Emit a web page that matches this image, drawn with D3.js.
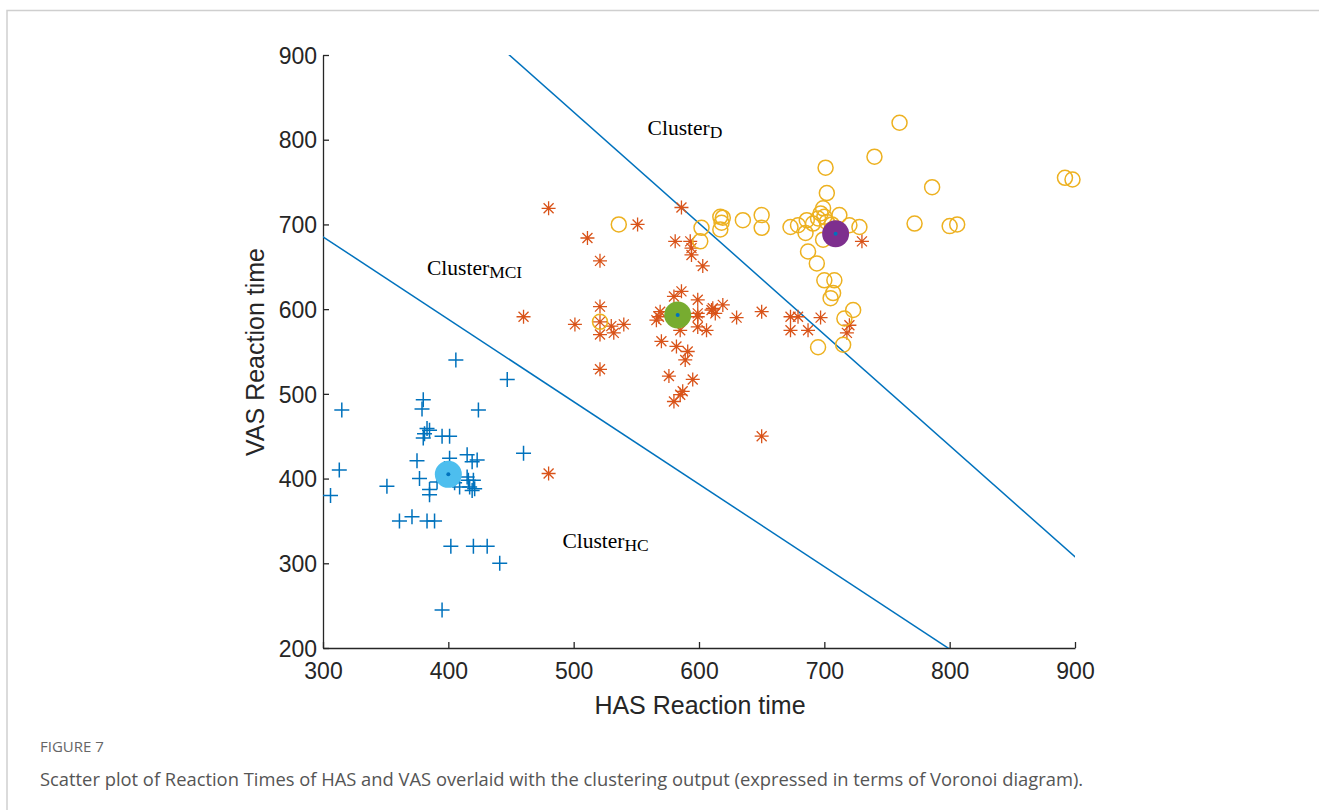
<!DOCTYPE html>
<html>
<head>
<meta charset="utf-8">
<script src="https://cdn.jsdelivr.net/npm/d3@7"></script>
<style>
  body { margin: 0; background: #fff; }
  svg { display: block; }
</style>
</head>
<body>
<div id="chart"></div>
<script>
// HC cluster points (plus markers) [HAS, VAS]
const hcPoints = [
  [315,481],[313,410],[306,380],[351,391],[361,350],[371,355],[383,350],[389,350],
  [406,540],[447,517],[380,493],[379,482],[424,481],[381,453],[385,457],[380,448],
  [395,450],[401,450],[375,421],[460,430],[377,400],[385,387],[385,381],[402,320],
  [420,320],[431,320],[441,300],[395,245],[415,428],[419,420],[423,422],[415,402],
  [416,398],[420,398],[417,390],[419,386],[421,388],[401,424],[409,390],[391,396],
  [383,459],[405,395],[397,412]
];

// MCI cluster points (asterisk markers)
const mciPoints = [
  [480,719],[551,700],[511,684],[521,657],[460,591],[501,582],[521,603],[521,585],
  [521,570],[530,580],[532,572],[540,582],[521,529],[480,406],[586,720],[581,680],
  [593,680],[594,672],[594,664],[603,651],[586,621],[569,597],[566,587],[580,615],
  [599,611],[611,601],[619,605],[599,591],[599,579],[606,575],[630,590],[650,597],
  [673,591],[679,591],[673,575],[687,575],[697,590],[720,581],[718,572],[730,680],
  [570,562],[582,556],[591,550],[589,540],[576,521],[595,517],[580,491],[585,499],
  [587,503],[650,450],[568,591],[585,575],[610,599],[613,595],[599,595]
];

// D cluster points (open circles)
const dPoints = [
  [536,700],[521,585],[601,680],[602,696],[617,709],[619,708],[618,702],[617,694],
  [635,705],[650,711],[650,696],[673,697],[679,699],[686,705],[685,690],[691,701],
  [695,707],[697,713],[699,719],[700,709],[702,703],[702,737],[701,767],[740,780],
  [760,820],[712,711],[720,699],[728,697],[699,682],[687,668],[694,654],[700,634],
  [708,634],[707,619],[705,613],[723,599],[716,589],[715,558],[695,555],[772,701],
  [800,698],[806,700],[786,744],[892,755],[898,753],[706,700],[710,695]
];

// cluster centroids
const centroidNames = ["HC", "MCI", "D"];
const centroidX = [400, 583, 709];
const centroidY = [405, 593, 689];
const centroidColors = ["#4DBEEE", "#77AC30", "#7E2F8E"];

// region labels [x, y] in data units
const labelNames = ["D", "MCI", "HC"];
const labelX = [559, 383, 491];
const labelY = [805, 640, 318];

const xTicks = [300, 400, 500, 600, 700, 800, 900];
const yTicks = [200, 300, 400, 500, 600, 700, 800, 900];

const W = 1319, H = 810;
const svg = d3.select("#chart").append("svg")
  .attr("width", W)
  .attr("height", H);

// card frame
svg.append("path")
  .attr("d", `M7,${H} L7,10.5 L${W},10.5`)
  .attr("fill", "none")
  .attr("stroke", "#cfcfcf")
  .attr("stroke-width", 1.5);

const x = d3.scaleLinear().domain([300, 900]).range([323, 1075]);
const y = d3.scaleLinear().domain([200, 900]).range([648, 55]);

svg.append("clipPath").attr("id", "plotclip")
  .append("rect")
  .attr("x", x(300)).attr("y", y(900))
  .attr("width", x(900) - x(300)).attr("height", y(200) - y(900));

// axes
const axisFont = "'Liberation Sans', Arial, sans-serif";
const gx = svg.append("g")
  .attr("transform", `translate(0,${y(200)})`)
  .call(d3.axisBottom(x).tickValues(xTicks).tickSizeInner(-6).tickSizeOuter(0).tickPadding(15));
const gy = svg.append("g")
  .attr("transform", `translate(${x(300)},0)`)
  .call(d3.axisLeft(y).tickValues(yTicks).tickSizeInner(-6).tickSizeOuter(0).tickPadding(6));
[gx, gy].forEach(g => {
  g.select(".domain").attr("stroke", "#262626").attr("stroke-width", 1.3);
  g.selectAll(".tick line").attr("stroke", "#262626").attr("stroke-width", 1.3);
  g.selectAll(".tick text")
    .attr("fill", "#262626")
    .style("font-family", axisFont)
    .style("font-size", "23px");
});
gy.selectAll(".tick text").attr("dy", "0.36em");

svg.append("text")
  .attr("x", 700).attr("y", 714)
  .attr("text-anchor", "middle")
  .attr("fill", "#262626")
  .style("font-family", axisFont)
  .style("font-size", "25px")
  .text("HAS Reaction time");

svg.append("text")
  .attr("transform", "translate(264,352) rotate(-90)")
  .attr("text-anchor", "middle")
  .attr("fill", "#262626")
  .style("font-family", axisFont)
  .style("font-size", "25px")
  .text("VAS Reaction time");

const lines = svg.append("g").attr("clip-path", "url(#plotclip)");
const plot = svg.append("g");

// Voronoi edges = perpendicular bisectors between neighbouring centroids
function bisector(i, j) {
  const mx = (centroidX[i] + centroidX[j]) / 2;
  const my = (centroidY[i] + centroidY[j]) / 2;
  const dx = centroidX[j] - centroidX[i];
  const dy = centroidY[j] - centroidY[i];
  const t = 20;
  return [[mx - dy * t, my + dx * t], [mx + dy * t, my - dx * t]];
}
[[0, 1], [1, 2]].forEach(([i, j]) => {
  const seg = bisector(i, j);
  lines.append("line")
    .attr("x1", x(seg[0][0])).attr("y1", y(seg[0][1]))
    .attr("x2", x(seg[1][0])).attr("y2", y(seg[1][1]))
    .attr("stroke", "#0072BD")
    .attr("stroke-width", 1.5);
});

// plus markers
const ps = 7.5;
plot.append("g").selectAll("path")
  .data(hcPoints)
  .join("path")
  .attr("d", d => {
    const cx = x(d[0]), cy = y(d[1]);
    return `M${cx - ps},${cy}H${cx + ps}M${cx},${cy - ps}V${cy + ps}`;
  })
  .attr("stroke", "#0072BD")
  .attr("stroke-width", 1.5)
  .attr("fill", "none");

// asterisk markers
const as = 7, ad = 5;
plot.append("g").selectAll("path")
  .data(mciPoints)
  .join("path")
  .attr("d", d => {
    const cx = x(d[0]), cy = y(d[1]);
    return `M${cx - as},${cy}H${cx + as}M${cx},${cy - as}V${cy + as}` +
      `M${cx - ad},${cy - ad}L${cx + ad},${cy + ad}M${cx - ad},${cy + ad}L${cx + ad},${cy - ad}`;
  })
  .attr("stroke", "#D95319")
  .attr("stroke-width", 1.3)
  .attr("fill", "none");

// open circles
plot.append("g").selectAll("circle")
  .data(dPoints)
  .join("circle")
  .attr("cx", d => x(d[0]))
  .attr("cy", d => y(d[1]))
  .attr("r", 7.5)
  .attr("fill", "none")
  .attr("stroke", "#EDB120")
  .attr("stroke-width", 1.5);

// centroids
centroidNames.forEach((name, i) => {
  plot.append("circle")
    .attr("cx", x(centroidX[i])).attr("cy", y(centroidY[i]))
    .attr("r", 13.5)
    .attr("fill", centroidColors[i]);
  plot.append("circle")
    .attr("cx", x(centroidX[i])).attr("cy", y(centroidY[i]))
    .attr("r", 2)
    .attr("fill", "#0072BD");
});

// region labels
labelNames.forEach((name, i) => {
  const t = svg.append("text")
    .attr("x", x(labelX[i])).attr("y", y(labelY[i]))
    .attr("fill", "#000")
    .style("font-family", "'Liberation Serif', 'Times New Roman', serif")
    .style("font-size", "21.5px");
  t.append("tspan").text("Cluster");
  t.append("tspan").attr("dy", 3).style("font-size", "17.5px").text(name);
});

// caption
svg.append("text")
  .attr("x", 40).attr("y", 752)
  .attr("fill", "#666")
  .style("font-family", "'Open Sans', sans-serif")
  .style("font-size", "15px")
  .text("FIGURE 7");
svg.append("text")
  .attr("x", 40).attr("y", 786)
  .attr("fill", "#555")
  .style("font-family", "'Open Sans', sans-serif")
  .style("font-size", "18.35px")
  .text("Scatter plot of Reaction Times of HAS and VAS overlaid with the clustering output (expressed in terms of Voronoi diagram).");
</script>
</body>
</html>
